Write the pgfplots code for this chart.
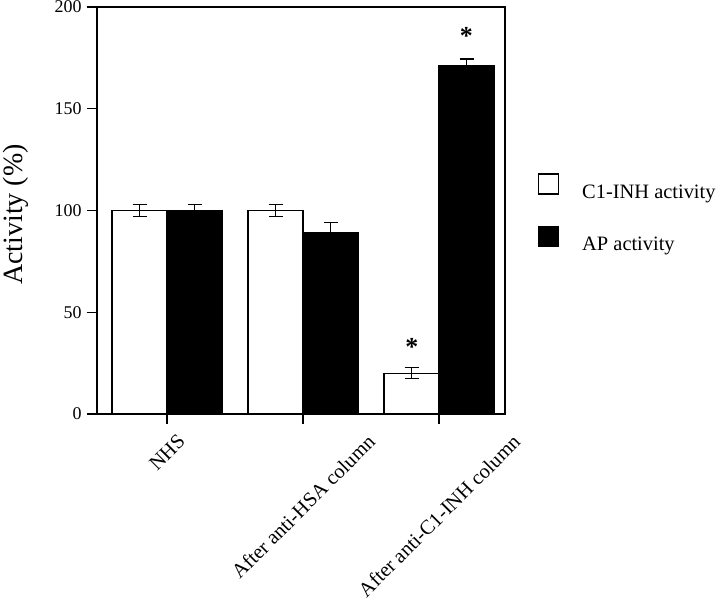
\documentclass[border=0pt]{standalone}
\usepackage{pgfplots}
\pgfplotsset{compat=1.18}
\usepackage{fontspec}
\setmainfont{Liberation Serif}
\begin{document}
\begin{tikzpicture}
\useasboundingbox (-97bp,-186bp) rectangle (623bp,414bp);
\begin{axis}[
  scale only axis, width=408bp, height=407bp,
  xmin=-0.515, xmax=2.485, ymin=0, ymax=200,
  ytick={0,50,100,150,200},
  xtick={0,1,2},
  xticklabels={\rotatebox{45}{NHS},\rotatebox{45}{After anti-HSA column},\rotatebox{45}{After anti-C1-INH column}},
  tick pos=left, tick align=outside, major tick length=10bp,
  axis line style={line width=1.2bp},
  every tick/.style={black, line width=1.2bp},
  /pgf/number format/assume math mode=true,
  y tick label style={font=\fontsize{18}{20}\selectfont, xshift=-2bp},
  x tick label style={font=\fontsize{20.5}{24}\selectfont, anchor=north, inner sep=0pt, yshift=-9bp},
  ylabel={Activity (\%)},
  ylabel style={at={(axis description cs:-0.2,0.49)}, anchor=center, font=\fontsize{28}{30}\selectfont},
  ybar, bar width=55bp,
  legend style={at={(1.081,0.591)}, anchor=north west, draw=none, fill=none,
    inner sep=0pt, outer sep=0pt, row sep=26bp, column sep=23bp,
    font=\fontsize{20.5}{24}\selectfont, nodes={inner sep=0pt}, cells={anchor=west}},
  error bars/error bar style={line width=1.3bp, black},
  error bars/error mark options={rotate=90, mark size=7bp, line width=1.3bp, black},
]
\addplot[draw=black, fill=white, line width=1.2bp, bar shift=-27.5bp,
  error bars/.cd, y dir=both, y explicit,
  /pgfplots/legend image code/.code={\draw[black, fill=white, line width=1.2bp] (0bp,-2bp) rectangle (20bp,18bp);}]
  coordinates {(0,100) +- (0,3) (1,100) +- (0,3) (2,20) +- (0,2.7)};
\addlegendentry{C1-INH activity}
\addplot[draw=black, fill=black, line width=1.2bp, bar shift=27.5bp,
  error bars/.cd, y dir=both, y explicit,
  /pgfplots/legend image code/.code={\fill[black] (0bp,-2bp) rectangle (20bp,18bp);}]
  coordinates {(0,100) +- (0,3) (1,89) +- (0,5) (2,171) +- (0,3.5)};
\addlegendentry{AP activity}
\node[font=\fontsize{26}{26}\selectfont\bfseries] at (axis cs:1.8,33) {*};
\node[font=\fontsize{26}{26}\selectfont\bfseries] at (axis cs:2.2,186) {*};
\end{axis}
\end{tikzpicture}
\end{document}
